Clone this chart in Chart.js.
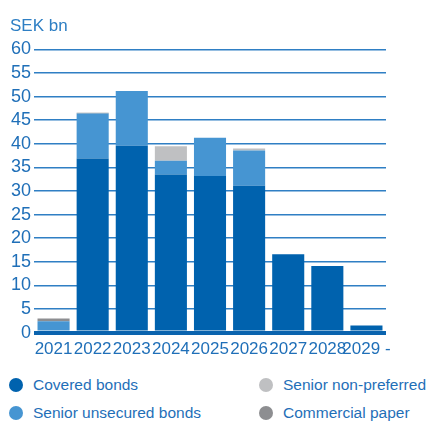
<!DOCTYPE html>
<html>
<head>
<meta charset="utf-8">
<script src="https://cdn.jsdelivr.net/npm/chart.js@4"></script>
<style>
  body { margin: 0; background: #fff; }
  #wrap { position: relative; width: 432px; height: 421px; }
  #box { position: absolute; left: 0; top: 0; width: 432px; height: 373px; }
  #legend { position: absolute; left: 0; top: 375px; width: 432px; font-family: "Liberation Sans", Arial, sans-serif; font-size: 15.5px; color: #1f6fb8; }
  .item { position: absolute; white-space: nowrap; line-height: 20px; }
  .dot { position: absolute; left: -24px; top: 3px; width: 14px; height: 14px; border-radius: 50%; }
</style>
</head>
<body>
<div id="wrap">
  <div id="box"><canvas id="maturityChart"></canvas></div>
  <div id="legend"></div>
</div>
<script>
const categories = ['2021', '2022', '2023', '2024', '2025', '2026', '2027', '2028', '2029 -'];
const coveredBonds = [0, 36.9, 39.6, 33.5, 33.2, 31.1, 16.6, 14.1, 1.5];
const seniorUnsecured = [2.4, 9.5, 11.6, 2.9, 8.1, 7.5, 0, 0, 0];
const seniorNonPreferred = [0, 0, 0, 3.1, 0, 0.4, 0, 0, 0];
const commercialPaper = [0.6, 0.2, 0, 0, 0, 0, 0, 0, 0];

const series = [
    { label: 'Covered bonds', data: coveredBonds, color: '#0062ae', col: 0, row: 0 },
    { label: 'Senior unsecured bonds', data: seniorUnsecured, color: '#4695d2', col: 0, row: 1 },
    { label: 'Senior non-preferred', data: seniorNonPreferred, color: '#bfc0c2', col: 1, row: 0 },
    { label: 'Commercial paper', data: commercialPaper, color: '#8d8e91', col: 1, row: 1 }
];

const blue = '#1f6fb8';

new Chart(document.getElementById('maturityChart'), {
    type: 'bar',
    data: {
        labels: categories,
        datasets: series.map(s => ({
            label: s.label,
            data: s.data,
            backgroundColor: s.color,
            borderWidth: 0,
            barPercentage: 0.82,
            categoryPercentage: 1
        }))
    },
    options: {
        responsive: true,
        maintainAspectRatio: false,
        animation: false,
        layout: { padding: { left: 10, right: 46, top: 0, bottom: 6 } },
        scales: {
            x: {
                stacked: true,
                grid: { display: false, drawTicks: false },
                border: { display: false },
                ticks: {
                    color: blue,
                    autoSkip: false,
                    maxRotation: 0,
                    padding: 7,
                    font: { family: '"Liberation Sans Narrow", "Liberation Sans", sans-serif', size: 17 }
                }
            },
            y: {
                stacked: true,
                min: 0,
                max: 60,
                afterFit: function (scale) { scale.width = 24; },
                grid: {
                    color: ctx => ctx.tick.value === 0 ? '#0a63ae' : '#2f7fc4',
                    lineWidth: ctx => ctx.tick.value === 0 ? 4 : 1.5,
                    drawTicks: false
                },
                border: { display: false },
                ticks: {
                    stepSize: 5,
                    autoSkip: false,
                    color: blue,
                    padding: 3,
                    font: { family: '"Liberation Sans", sans-serif', size: 18 }
                }
            }
        },
        plugins: {
            legend: { display: false },
            tooltip: { enabled: false },
            title: {
                display: true,
                text: 'SEK bn',
                align: 'start',
                color: '#2e7fc4',
                padding: { top: 16, bottom: 13 },
                font: { family: '"Liberation Sans", sans-serif', size: 17, weight: 'normal' }
            }
        }
    }
});

// legend in two columns, built from the series list
const legend = document.getElementById('legend');
series.forEach(s => {
    const item = document.createElement('div');
    item.className = 'item';
    item.style.left = (s.col ? 283 : 33) + 'px';
    item.style.top = (s.row * 28) + 'px';
    const dot = document.createElement('span');
    dot.className = 'dot';
    dot.style.background = s.color;
    item.appendChild(dot);
    item.appendChild(document.createTextNode(s.label));
    legend.appendChild(item);
});
</script>
</body>
</html>
